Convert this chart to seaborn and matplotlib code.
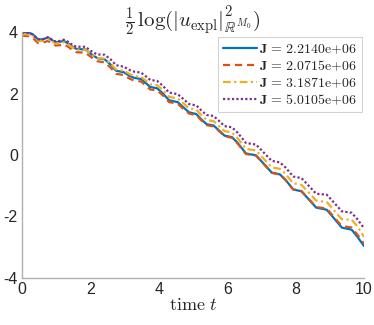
import matplotlib
matplotlib.use("Agg")
import matplotlib.pyplot as plt
import seaborn as sns
import pandas as pd

t = [0.0, 0.2, 0.32, 0.47, 0.6, 0.76, 0.9, 0.98, 1.1, 1.22, 1.35, 1.5, 1.6, 1.85,
     2.05, 2.2, 2.42, 2.6, 2.75, 2.98, 3.15, 3.28, 3.48, 3.62, 3.75, 3.95, 4.12,
     4.3, 4.55, 4.72, 4.88, 5.1, 5.25, 5.4, 5.6, 5.78, 5.92, 6.14, 6.3, 6.55, 6.84,
     7.0, 7.3, 7.54, 7.7, 7.93, 8.17, 8.35, 8.6, 8.91, 9.1, 9.35, 9.64, 9.8, 10.0]

blue = [4.00, 3.98, 3.92, 3.76, 3.76, 3.82, 3.72, 3.67, 3.68, 3.71, 3.63, 3.50, 3.45, 3.43,
        3.26, 3.15, 3.11, 2.93, 2.74, 2.69, 2.57, 2.51, 2.47, 2.34, 2.21, 2.17, 2.00,
        1.78, 1.72, 1.55, 1.39, 1.33, 1.15, 1.00, 0.96, 0.78, 0.63, 0.58, 0.40, 0.05, -0.01,
        -0.20, -0.57, -0.63, -0.80, -1.12, -1.18, -1.40, -1.71, -1.78, -2.03, -2.36, -2.43, -2.65, -2.96]

orange = [3.88, 3.86, 3.80, 3.64, 3.65, 3.71, 3.61, 3.56, 3.57, 3.60, 3.52, 3.39, 3.34, 3.33,
          3.16, 3.05, 3.01, 2.83, 2.64, 2.60, 2.48, 2.42, 2.39, 2.26, 2.13, 2.10, 1.94,
          1.72, 1.67, 1.50, 1.35, 1.29, 1.12, 0.97, 0.93, 0.76, 0.61, 0.56, 0.38, 0.03, -0.02,
          -0.21, -0.58, -0.64, -0.81, -1.12, -1.17, -1.39, -1.69, -1.74, -1.99, -2.31, -2.36, -2.58, -2.88]

yellow = [3.93, 3.92, 3.86, 3.71, 3.71, 3.77, 3.68, 3.63, 3.64, 3.67, 3.60, 3.48, 3.43, 3.42,
          3.26, 3.16, 3.13, 2.96, 2.78, 2.74, 2.63, 2.57, 2.54, 2.42, 2.30, 2.27, 2.11,
          1.89, 1.84, 1.68, 1.52, 1.47, 1.29, 1.14, 1.10, 0.92, 0.78, 0.73, 0.55, 0.20, 0.15,
          -0.04, -0.40, -0.45, -0.61, -0.92, -0.97, -1.18, -1.48, -1.53, -1.77, -2.09, -2.11, -2.31, -2.66]

purple = [3.98, 3.97, 3.91, 3.76, 3.76, 3.83, 3.74, 3.69, 3.71, 3.75, 3.68, 3.56, 3.52, 3.52,
          3.36, 3.27, 3.26, 3.10, 2.92, 2.87, 2.76, 2.71, 2.68, 2.56, 2.44, 2.41, 2.25,
          2.03, 1.98, 1.82, 1.66, 1.61, 1.44, 1.30, 1.27, 1.09, 0.94, 0.90, 0.73, 0.39, 0.34,
          0.16, -0.19, -0.24, -0.40, -0.70, -0.75, -0.96, -1.26, -1.29, -1.52, -1.83, -1.88, -2.08, -2.38]

labels = [r"$\mathbf{J}\,=\,2.2140\mathrm{e}{+}06$",
          r"$\mathbf{J}\,=\,2.0715\mathrm{e}{+}06$",
          r"$\mathbf{J}\,=\,3.1871\mathrm{e}{+}06$",
          r"$\mathbf{J}\,=\,5.0105\mathrm{e}{+}06$"]
series = [blue, orange, yellow, purple]
colors = ["#0072BD", "#D95319", "#EDB120", "#7E2F8E"]
styles = ["-", (0, (3.2, 2.2)), (0, (3.5, 1.5, 1, 1.5)), (0, (1, 1))]

xticks = [0, 2, 4, 6, 8, 10]
yticks = [-4, -2, 0, 2, 4]

sns.set_style("white")
plt.rcParams["font.family"] = ["Liberation Sans", "DejaVu Sans"]
plt.rcParams["mathtext.fontset"] = "cm"
plt.rcParams["axes.unicode_minus"] = False

fig = plt.figure(figsize=(3.74, 3.25), dpi=100)
ax = fig.add_axes([22 / 374, 1 - 278 / 325, (364 - 22) / 374, (278 - 32) / 325])

for ys, lab, c, ls in zip(series, labels, colors, styles):
    df = pd.DataFrame({"t": t, "v": ys})
    sns.lineplot(data=df, x="t", y="v", ax=ax, color=c, linestyle=ls,
                 linewidth=1.6, label=lab)

ax.set_xlim(0, 10)
ax.set_ylim(-4, 4)
ax.set_xticks(xticks)
ax.set_yticks(yticks)
ax.set_xticklabels([str(v) for v in xticks])
ax.set_yticklabels([str(v) for v in yticks])
for s in ["top", "right"]:
    ax.spines[s].set_visible(False)
for s in ["left", "bottom"]:
    ax.spines[s].set_color("#b0b0b0")
    ax.spines[s].set_linewidth(1.0)
ax.tick_params(direction="in", length=3, color="#b0b0b0", labelsize=11.5,
               labelcolor="#262626", pad=3)
ax.set_xlabel(r"$\mathrm{time}\ t$", fontsize=13, color="#262626", labelpad=0)
ax.set_ylabel("")
ax.set_title(r"$\frac{1}{2}\,\log(|u_{\mathrm{expl}}|^2_{\mathbb{R}^{M_0}})$",
             fontsize=15, color="#262626", pad=3)

leg = ax.legend(loc="upper right", bbox_to_anchor=((362 - 22) / 342, 1 - 5 / 246),
                fontsize=10, frameon=True, fancybox=False, handlelength=2.5,
                handletextpad=0.15, borderpad=0.35, labelspacing=0.2, borderaxespad=0.0)
leg.get_frame().set_edgecolor("#c8c8c8")
leg.get_frame().set_linewidth(0.8)

fig.savefig("out.png", dpi=100)
